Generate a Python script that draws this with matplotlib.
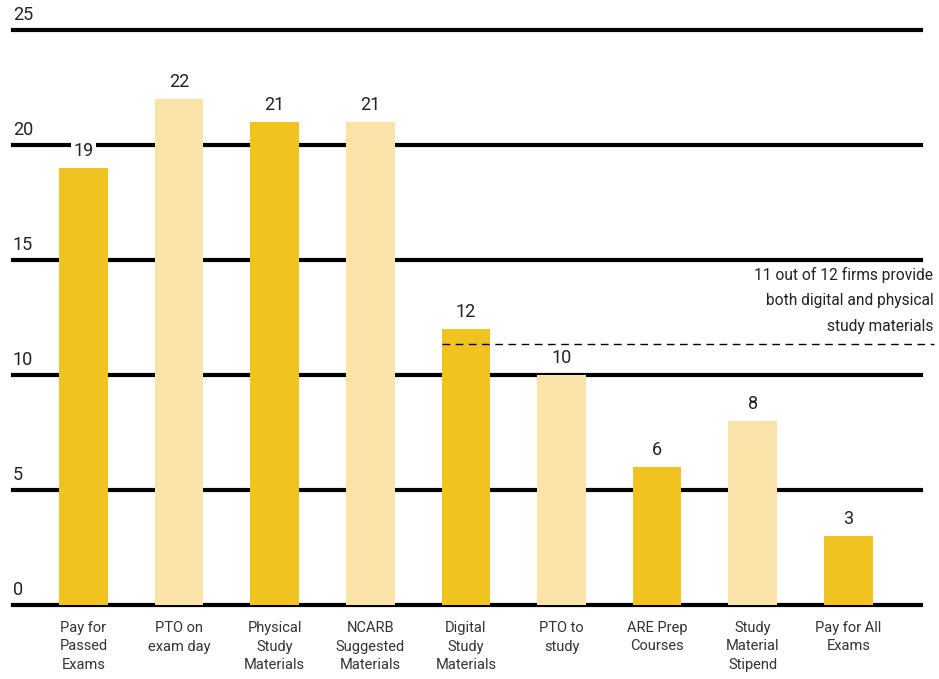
import matplotlib.pyplot as plt
import numpy as np

plt.rcParams['font.family'] = ['Roboto', 'DejaVu Sans']

categories = ["Pay for\nPassed\nExams", "PTO on\nexam day", "Physical\nStudy\nMaterials",
              "NCARB\nSuggested\nMaterials", "Digital\nStudy\nMaterials", "PTO to\nstudy",
              "ARE Prep\nCourses", "Study\nMaterial\nStipend", "Pay for All\nExams"]
values = [19, 22, 21, 21, 12, 10, 6, 8, 3]
shades = ["dark", "light", "dark", "light", "dark", "light", "dark", "light", "dark"]
yticks = [0, 5, 10, 15, 20, 25]
both_level = 11.35
note = "11 out of 12 firms provide\nboth digital and physical\nstudy materials"

palette = {"dark": "#F0C320", "light": "#F9E3A8"}
ink = "#222222"

fig = plt.figure(figsize=(9.39, 6.79), dpi=100)
ax = fig.add_axes([13/939, 74/679, (921-13)/939, (649-74)/679])
ax.set_xlim(-0.737, 8.76)
ax.set_ylim(0, 25)
ax.axis("off")

x = np.arange(len(values))

# horizontal rules with labels sitting on top
for t in yticks:
    ax.axhline(t, color="black", lw=3, zorder=1, clip_on=False)
    ax.text(-0.737, t + 0.25, str(t), ha="left", va="bottom", fontsize=13,
            color=ink)

ax.bar(x, values, width=0.51, color=[palette[s] for s in shades], zorder=2)

for xi, v in zip(x, values):
    ax.text(xi, v + 0.35, str(v), ha="center", va="bottom", fontsize=13,
            color=ink, zorder=3,
            bbox=dict(facecolor="white", edgecolor="none", pad=1.5))

for xi, c in zip(x, categories):
    ax.text(xi, -0.7, c, ha="center", va="top", fontsize=10.5, color="#333333",
            linespacing=1.4)

# dashed marker for firms offering both kinds of materials
ax.plot([x[4] - 0.255, 8.9], [both_level, both_level], color="black", lw=1,
        ls=(0, (5.5, 4)), zorder=3, clip_on=False)
ax.text(8.89, both_level + 0.45, note, ha="right", va="bottom", fontsize=11.2,
        color=ink, linespacing=1.85)

fig.savefig("out.png", dpi=100)
